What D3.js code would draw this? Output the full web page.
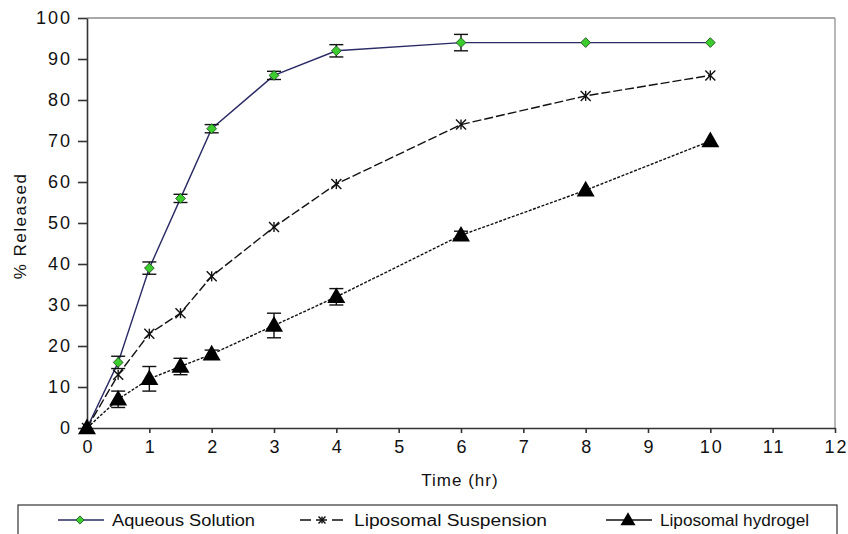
<!DOCTYPE html>
<html lang="en">
<head>
<meta charset="UTF-8">
<title>% Released vs Time</title>
<script src="https://d3js.org/d3.v7.min.js"></script>
<style>
  body { margin: 0; background: #fff; }
  text { font-family: "Liberation Sans", Arial, sans-serif; fill: #111; }
</style>
</head>
<body>
<svg width="848" height="534"></svg>
<script>
const times = [0, 0.5, 1, 1.5, 2, 3, 4, 6, 8, 10]

const aqueous = [0, 16, 39, 56, 73, 86, 92, 94, 94, 94]
const aqueousErr = [0, 1.5, 1.5, 1, 1, 1, 1.5, 2, 0, 0]

const suspension = [0, 13, 23, 28, 37, 49, 59.5, 74, 81, 86]
const suspensionErr = [0, 0, 0, 0, 0, 0, 0, 0, 0, 0]

const hydrogel = [0, 7, 12, 15, 18, 25, 32, 47, 58, 70]
const hydrogelErr = [0, 2, 3, 2, 1, 3, 2, 1, 0, 0]

const xTicks = d3.range(0, 13)
const yTicks = d3.range(0, 101, 10)
const legendNames = ["Aqueous Solution", "Liposomal Suspension", "Liposomal hydrogel"]

const svg = d3.select("svg")
const mLeft = 87, mRight = 835, mTop = 18, mBottom = 428

const x = d3.scaleLinear().domain([0, 12]).range([mLeft, mRight])
const y = d3.scaleLinear().domain([0, 100]).range([mBottom, mTop])

// frame (top + right)
svg.append("line").attr("x1", mLeft).attr("x2", mRight).attr("y1", mTop).attr("y2", mTop)
  .attr("stroke", "#555").attr("stroke-width", 1.2)
svg.append("line").attr("x1", mRight).attr("x2", mRight).attr("y1", mTop).attr("y2", mBottom)
  .attr("stroke", "#888").attr("stroke-width", 1.2)

// axes
const xAxis = svg.append("g").attr("transform", `translate(0,${mBottom})`)
  .call(d3.axisBottom(x).tickValues(xTicks).tickSize(5).tickPadding(7).tickSizeOuter(0))
const yAxis = svg.append("g").attr("transform", `translate(${mLeft},0)`)
  .call(d3.axisLeft(y).tickValues(yTicks).tickSize(9).tickPadding(6).tickSizeOuter(0))

;[xAxis, yAxis].forEach(g => {
  g.select(".domain").attr("stroke", "#333").attr("stroke-width", 1.6)
  g.selectAll(".tick line").attr("stroke", "#333").attr("stroke-width", 1.6)
  g.selectAll(".tick text").attr("font-size", 18).attr("fill", "#111")
    .attr("font-family", "'Liberation Sans', Arial, sans-serif").style("letter-spacing", "2px")
})
xAxis.selectAll(".tick text").attr("dx", "1px")

svg.append("text").attr("x", 460).attr("y", 486).attr("text-anchor", "middle")
  .attr("font-size", 17).style("letter-spacing", "1px").text("Time (hr)")
svg.append("text").attr("transform", "translate(26,226) rotate(-90)").attr("text-anchor", "middle")
  .attr("font-size", 17).style("letter-spacing", "1.5px").text("% Released")

const series = [
  { vals: aqueous, err: aqueousErr, stroke: "#2a2a66", dash: null, mark: "diamond" },
  { vals: suspension, err: suspensionErr, stroke: "#111", dash: "9,3", mark: "star" },
  { vals: hydrogel, err: hydrogelErr, stroke: "#111", dash: "3,1.5", mark: "triangle" }
]

const line = d3.line().x(d => x(d[0])).y(d => y(d[1]))

function drawMarker(g, kind, px, py, scale) {
  const s = scale || 1
  if (kind === "diamond") {
    g.append("path").attr("transform", `translate(${px},${py}) rotate(45)`)
      .attr("d", d3.symbol(d3.symbolSquare, 48 * s)())
      .attr("fill", "#3ccc2e").attr("stroke", "#1a4a1a").attr("stroke-width", 0.8)
  } else if (kind === "star") {
    const r = 5 * s
    const p = g.append("g").attr("transform", `translate(${px},${py})`)
      .attr("stroke", "#111").attr("stroke-width", 1.4)
    p.append("line").attr("x1", -r).attr("x2", r).attr("y1", -r).attr("y2", r)
    p.append("line").attr("x1", -r).attr("x2", r).attr("y1", r).attr("y2", -r)
    p.append("line").attr("x1", 0).attr("x2", 0).attr("y1", -r).attr("y2", r)
  } else {
    g.append("path").attr("transform", `translate(${px},${py + 1})`)
      .attr("d", d3.symbol(d3.symbolTriangle, 140 * s)())
      .attr("fill", "#000")
  }
}

series.forEach(sr => {
  const pts = times.map((t, i) => [t, sr.vals[i]])
  svg.append("path").datum(pts).attr("d", line)
    .attr("fill", "none").attr("stroke", sr.stroke).attr("stroke-width", 1.4)
    .attr("stroke-dasharray", sr.dash)

  const eg = svg.append("g").attr("stroke", "#111").attr("stroke-width", 1.4)
  times.forEach((t, i) => {
    const e = sr.err[i]
    if (!e) return
    const cx = x(t), y1 = y(sr.vals[i] + e), y2 = y(sr.vals[i] - e)
    eg.append("line").attr("x1", cx).attr("x2", cx).attr("y1", y1).attr("y2", y2)
    eg.append("line").attr("x1", cx - 7).attr("x2", cx + 7).attr("y1", y1).attr("y2", y1)
    eg.append("line").attr("x1", cx - 7).attr("x2", cx + 7).attr("y1", y2).attr("y2", y2)
  })

  const mg = svg.append("g")
  times.forEach((t, i) => drawMarker(mg, sr.mark, x(t), y(sr.vals[i])))
})

// legend
const lg = svg.append("g")
lg.append("rect").attr("x", 18).attr("y", 505).attr("width", 819).attr("height", 40)
  .attr("fill", "none").attr("stroke", "#333").attr("stroke-width", 1.2)

const legendX = [58, 300, 606]
const legendW = [143, 193, 149]
legendNames.forEach((name, i) => {
  const sr = series[i]
  const lx = legendX[i], ly = 520
  lg.append("line").attr("x1", lx).attr("x2", lx + 46).attr("y1", ly).attr("y2", ly)
    .attr("stroke", sr.stroke).attr("stroke-width", 1.4)
    .attr("stroke-dasharray", i === 1 ? "11,5" : null)
  drawMarker(lg, sr.mark, lx + 22, ly, 0.7)
  lg.append("text").attr("x", lx + 54).attr("y", ly + 6).attr("font-size", 16)
    .attr("textLength", legendW[i]).attr("lengthAdjust", "spacingAndGlyphs")
    .text(name)
})
</script>
</body>
</html>
